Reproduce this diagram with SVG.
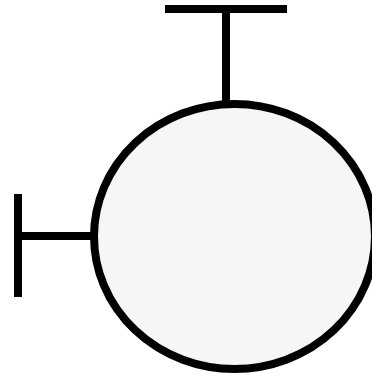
<svg xmlns="http://www.w3.org/2000/svg" width="372" height="374" viewBox="0 0 372 374">
<style>
.ln{stroke:#000;stroke-width:8;fill:none}
.nd{fill:#f6f6f6;stroke:#000;stroke-width:8}
</style>
<rect width="372" height="374" fill="#fff"/>
<g id="connectors">
<line class="ln" x1="226" y1="9" x2="226" y2="105"/>
<line class="ln" x1="165" y1="9" x2="287" y2="9"/>
<line class="ln" x1="18" y1="236" x2="94" y2="236"/>
<line class="ln" x1="18" y1="194" x2="18" y2="297"/>
</g>
<g id="node">
<ellipse class="nd" cx="234.5" cy="236.5" rx="140.5" ry="132.5"/>
</g>
</svg>
